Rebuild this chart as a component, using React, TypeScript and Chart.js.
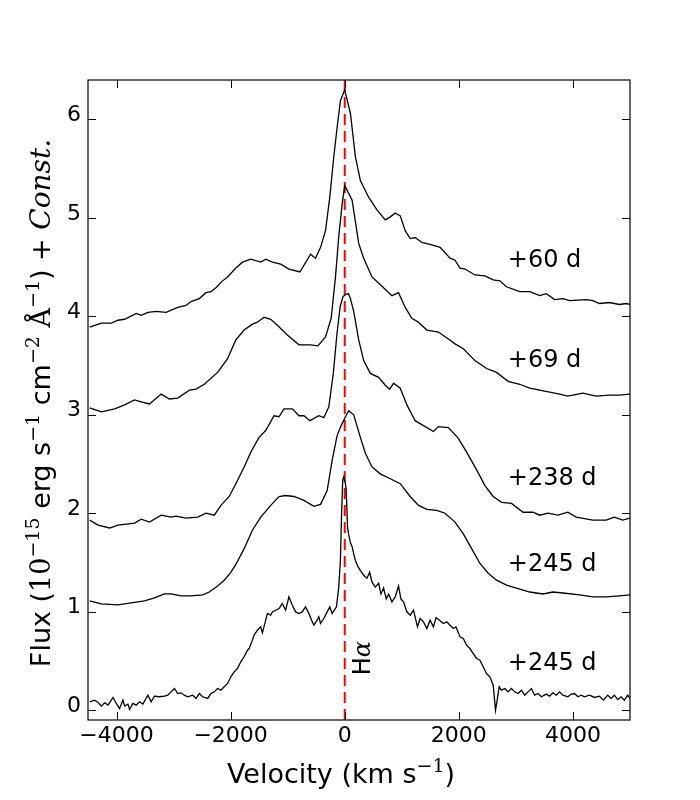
import { useEffect, useRef } from 'react';
import { Chart, registerables } from 'chart.js';

Chart.register(...registerables);

const xTicks = [-4000, -2000, 0, 2000, 4000];
const yTicks = [0, 1, 2, 3, 4, 5, 6];
const xMin = -4500;
const xMax = 5000;
const yMin = -0.1;
const yMax = 6.4;

const epoch60: [number, number][] = [
  [-4470, 3.89], [-4266, 3.93], [-4091, 3.93], [-3975, 3.96], [-3858, 3.97], [-3654, 4.03], [-3567, 4.01],
  [-3450, 4.04], [-3305, 4.05], [-3131, 4.04], [-2927, 4.09], [-2782, 4.11], [-2694, 4.15], [-2549, 4.18],
  [-2432, 4.24], [-2345, 4.25], [-2258, 4.29], [-2141, 4.36], [-2054, 4.40], [-1909, 4.49], [-1792, 4.55],
  [-1647, 4.58], [-1472, 4.55], [-1385, 4.58], [-1268, 4.55], [-1123, 4.53], [-978, 4.48], [-786, 4.45],
  [-599, 4.63], [-512, 4.59], [-424, 4.70], [-337, 4.87], [-262, 5.21], [-192, 5.62], [-133, 5.92],
  [-75, 6.19], [0, 6.30], [100, 6.06], [187, 5.62], [274, 5.38], [419, 5.21], [565, 5.08], [711, 4.98],
  [798, 5.01], [885, 5.05], [973, 5.02], [1060, 4.87], [1147, 4.79], [1234, 4.80], [1351, 4.75], [1496, 4.73],
  [1671, 4.70], [1846, 4.59], [1933, 4.57], [2020, 4.49], [2108, 4.48], [2282, 4.42], [2457, 4.41],
  [2602, 4.37], [2719, 4.36], [2835, 4.30], [3068, 4.25], [3243, 4.25], [3417, 4.21], [3534, 4.23],
  [3679, 4.17], [3824, 4.18], [3941, 4.16], [4233, 4.17], [4349, 4.16], [4465, 4.13], [4640, 4.14],
  [4814, 4.12], [4931, 4.13], [5000, 4.12],
];

const epoch69: [number, number][] = [
  [-4470, 3.07], [-4266, 3.03], [-4033, 3.06], [-3858, 3.10], [-3684, 3.15], [-3567, 3.13], [-3422, 3.11],
  [-3218, 3.21], [-3073, 3.16], [-2927, 3.17], [-2723, 3.25], [-2607, 3.26], [-2462, 3.31], [-2228, 3.43],
  [-2054, 3.57], [-1909, 3.76], [-1763, 3.86], [-1617, 3.92], [-1530, 3.94], [-1414, 3.99], [-1297, 3.97],
  [-1181, 3.91], [-1006, 3.81], [-802, 3.71], [-599, 3.71], [-471, 3.70], [-337, 3.79], [-238, 3.98],
  [-162, 4.40], [-105, 4.81], [-45, 5.14], [0, 5.33], [129, 5.18], [245, 4.74], [332, 4.59], [478, 4.40],
  [681, 4.29], [827, 4.21], [943, 4.24], [1060, 4.09], [1176, 3.98], [1293, 3.94], [1439, 3.86],
  [1642, 3.84], [1816, 3.77], [1933, 3.72], [2079, 3.67], [2282, 3.55], [2486, 3.47], [2661, 3.43],
  [2864, 3.34], [3068, 3.31], [3243, 3.27], [3417, 3.25], [3592, 3.23], [3766, 3.21], [3911, 3.19],
  [4173, 3.22], [4407, 3.19], [4640, 3.20], [4814, 3.20], [5000, 3.21],
];

const epoch238: [number, number][] = [
  [-4470, 1.93], [-4324, 1.88], [-4120, 1.85], [-3975, 1.88], [-3684, 1.90], [-3567, 1.94], [-3422, 1.91],
  [-3218, 1.98], [-3043, 1.96], [-2956, 1.97], [-2782, 1.95], [-2578, 1.96], [-2432, 2.00], [-2287, 1.98],
  [-2170, 2.08], [-2025, 2.17], [-1909, 2.30], [-1763, 2.47], [-1647, 2.62], [-1502, 2.77], [-1385, 2.84],
  [-1240, 2.99], [-1152, 2.98], [-1065, 3.06], [-919, 3.06], [-802, 2.99], [-715, 2.99], [-611, 2.94],
  [-454, 2.99], [-367, 2.97], [-279, 3.08], [-200, 3.42], [-140, 3.80], [-80, 4.10], [-30, 4.20],
  [12, 4.22], [65, 4.23], [100, 4.18], [157, 4.05], [245, 3.76], [332, 3.55], [449, 3.42], [594, 3.38],
  [711, 3.30], [786, 3.26], [856, 3.32], [973, 3.27], [1090, 3.10], [1234, 2.94], [1351, 2.90],
  [1554, 2.83], [1642, 2.88], [1816, 2.87], [1991, 2.76], [2137, 2.62], [2312, 2.44], [2457, 2.28],
  [2602, 2.17], [2748, 2.11], [2923, 2.10], [3126, 2.01], [3301, 2.01], [3417, 1.98], [3563, 2.00],
  [3737, 1.98], [3911, 2.01], [4057, 1.96], [4349, 1.93], [4582, 1.93], [4727, 1.96], [4872, 1.93],
  [5000, 1.95],
];

const epoch245a: [number, number][] = [
  [-4470, 1.11], [-4266, 1.08], [-3975, 1.07], [-3742, 1.09], [-3510, 1.11], [-3335, 1.14], [-3160, 1.18],
  [-3043, 1.18], [-2869, 1.16], [-2694, 1.16], [-2490, 1.17], [-2374, 1.20], [-2228, 1.26], [-2112, 1.32],
  [-1996, 1.40], [-1909, 1.48], [-1763, 1.64], [-1617, 1.83], [-1472, 1.96], [-1297, 2.08], [-1152, 2.17],
  [-1036, 2.18], [-890, 2.17], [-715, 2.13], [-541, 2.07], [-424, 2.09], [-308, 2.23], [-220, 2.54],
  [-133, 2.79], [-63, 2.89], [12, 2.98], [70, 3.04], [157, 3.00], [274, 2.77], [361, 2.61], [478, 2.47],
  [623, 2.40], [798, 2.35], [973, 2.30], [1147, 2.17], [1293, 2.08], [1439, 2.04], [1613, 2.03],
  [1758, 2.00], [1933, 1.91], [2079, 1.79], [2224, 1.64], [2370, 1.49], [2515, 1.39], [2661, 1.32],
  [2835, 1.27], [3068, 1.23], [3243, 1.20], [3475, 1.18], [3650, 1.20], [3824, 1.19], [4116, 1.17],
  [4349, 1.15], [4582, 1.15], [4814, 1.16], [5000, 1.17],
];

const epoch245b: [number, number][] = [
  [-4470, 0.085], [-4382, 0.102], [-4324, 0.078], [-4266, 0.041], [-4208, 0.075], [-4149, 0.051],
  [-4062, 0.129], [-4004, 0.068], [-3946, 0.017], [-3888, 0.102], [-3858, 0.041], [-3800, 0.061],
  [-3771, 0.007], [-3713, 0.068], [-3655, 0.051], [-3597, 0.085], [-3538, 0.061], [-3451, 0.152],
  [-3393, 0.085], [-3335, 0.142], [-3247, 0.136], [-3160, 0.142], [-3102, 0.152], [-3044, 0.186],
  [-2985, 0.220], [-2927, 0.169], [-2869, 0.176], [-2811, 0.152], [-2753, 0.136], [-2665, 0.152],
  [-2607, 0.119], [-2549, 0.169], [-2491, 0.136], [-2403, 0.119], [-2345, 0.169], [-2287, 0.186],
  [-2229, 0.220], [-2171, 0.203], [-2113, 0.237], [-2054, 0.271], [-1996, 0.339], [-1938, 0.389],
  [-1880, 0.423], [-1822, 0.491], [-1764, 0.542], [-1705, 0.609], [-1676, 0.626], [-1618, 0.711],
  [-1589, 0.762], [-1531, 0.812], [-1473, 0.846], [-1443, 0.785], [-1385, 0.914], [-1356, 0.982],
  [-1298, 0.965], [-1269, 0.998], [-1210, 1.015], [-1152, 1.032], [-1094, 1.083], [-1036, 1.015],
  [-978, 1.151], [-919, 1.066], [-861, 0.998], [-803, 0.982], [-745, 0.998], [-687, 1.049],
  [-628, 0.982], [-570, 0.897], [-541, 0.863], [-483, 0.914], [-454, 0.948], [-425, 0.880],
  [-367, 0.931], [-308, 0.998], [-262, 1.049], [-221, 0.982], [-145, 1.049], [-105, 1.252],
  [-76, 1.523], [-55, 2.00], [-35, 2.34], [-17, 2.37], [5, 2.32], [25, 2.25], [50, 1.85], [70, 1.78],
  [100, 1.70], [129, 1.66], [160, 1.58], [187, 1.52], [230, 1.46], [274, 1.42], [332, 1.37],
  [390, 1.34], [437, 1.40], [478, 1.30], [536, 1.25], [594, 1.29], [635, 1.18], [681, 1.24],
  [728, 1.13], [769, 1.18], [827, 1.10], [885, 1.15], [943, 1.26], [984, 1.13], [1030, 1.10],
  [1089, 0.999], [1147, 0.965], [1205, 1.015], [1275, 0.846], [1321, 0.931], [1380, 0.897],
  [1438, 0.829], [1496, 0.914], [1554, 0.846], [1601, 0.941], [1659, 0.914], [1729, 0.880],
  [1787, 0.897], [1845, 0.863], [1903, 0.829], [1950, 0.846], [2020, 0.745], [2078, 0.728],
  [2136, 0.660], [2194, 0.626], [2253, 0.575], [2311, 0.525], [2369, 0.508], [2427, 0.440],
  [2485, 0.372], [2544, 0.339], [2602, 0.254], [2643, 0.000], [2672, 0.102], [2707, 0.237],
  [2747, 0.203], [2806, 0.220], [2864, 0.186], [2922, 0.220], [2980, 0.186], [3038, 0.169],
  [3097, 0.203], [3155, 0.152], [3213, 0.186], [3271, 0.220], [3329, 0.152], [3388, 0.169],
  [3446, 0.136], [3533, 0.163], [3591, 0.142], [3649, 0.176], [3708, 0.152], [3766, 0.186],
  [3824, 0.152], [3911, 0.136], [3970, 0.163], [4028, 0.169], [4086, 0.136], [4144, 0.152],
  [4202, 0.136], [4290, 0.152], [4377, 0.129], [4464, 0.142], [4534, 0.102], [4610, 0.152],
  [4668, 0.119], [4726, 0.152], [4784, 0.108], [4843, 0.136], [4901, 0.102], [4959, 0.152],
  [5000, 0.119],
];

const series = [epoch60, epoch69, epoch238, epoch245a, epoch245b];
const epochLabels = ['+60 d', '+69 d', '+238 d', '+245 d', '+245 d'];
const labelVel = [2858, 2858, 2858, 2858, 2858];
const labelFlux = [4.5, 3.49, 2.29, 1.41, 0.41];
const lineLabel = 'H';
const lineLabelGreek = 'α';
const lineLabelPos = [450, 0.355];

const SANS = '"DejaVu Sans"';
const SERIF = '"DejaVu Serif"';

type Seg = { t: string; f: string; dy?: number };

function drawRich(ctx: CanvasRenderingContext2D, segs: Seg[], x: number, y: number, center: boolean) {
  let w = 0;
  for (const s of segs) {
    ctx.font = s.f;
    w += ctx.measureText(s.t).width;
  }
  let cx = center ? x - w / 2 : x;
  ctx.textBaseline = 'alphabetic';
  ctx.textAlign = 'left';
  for (const s of segs) {
    ctx.font = s.f;
    ctx.fillText(s.t, cx, y + (s.dy || 0));
    cx += ctx.measureText(s.t).width;
  }
}

const fmt = (v: number) => (v < 0 ? '\u2212' + Math.abs(v) : String(v));

const decorPlugin = {
  id: 'decor',
  afterDraw(chart: any) {
    const ctx: CanvasRenderingContext2D = chart.ctx;
    const { left, right, top, bottom } = chart.chartArea;
    const xs = chart.scales.x;
    const ys = chart.scales.y;
    ctx.save();
    ctx.strokeStyle = '#000';
    ctx.lineWidth = 1.2;
    ctx.strokeRect(left, top, right - left, bottom - top);
    const tl = 8;
    ctx.beginPath();
    for (const v of xTicks) {
      const px = Math.round(xs.getPixelForValue(v)) + 0.5;
      ctx.moveTo(px, bottom);
      ctx.lineTo(px, bottom - tl);
      ctx.moveTo(px, top);
      ctx.lineTo(px, top + tl);
    }
    for (const v of yTicks) {
      const py = Math.round(ys.getPixelForValue(v)) + 0.5;
      ctx.moveTo(left, py);
      ctx.lineTo(left + tl, py);
      ctx.moveTo(right, py);
      ctx.lineTo(right - tl, py);
    }
    ctx.lineWidth = 1;
    ctx.stroke();

    ctx.fillStyle = '#000';
    // epoch labels
    ctx.font = `24px ${SANS}`;
    ctx.textAlign = 'left';
    ctx.textBaseline = 'alphabetic';
    epochLabels.forEach((t, i) => {
      ctx.fillText(t, xs.getPixelForValue(labelVel[i]), ys.getPixelForValue(labelFlux[i]));
    });

    // H alpha label
    ctx.save();
    ctx.translate(xs.getPixelForValue(lineLabelPos[0]), ys.getPixelForValue(lineLabelPos[1]));
    ctx.rotate(-Math.PI / 2);
    drawRich(ctx, [
      { t: lineLabel, f: `24px ${SANS}` },
      { t: lineLabelGreek, f: `italic 24px ${SERIF}` },
    ], 0, 0, false);
    ctx.restore();

    // x title
    drawRich(ctx, [
      { t: 'Velocity (km s', f: `27px ${SANS}` },
      { t: '\u22121', f: `19px ${SERIF}`, dy: -11 },
      { t: ')', f: `27px ${SANS}` },
    ], (left + right) / 2 - 18, 783, true);

    // y title
    ctx.save();
    ctx.translate(50, 403);
    ctx.rotate(-Math.PI / 2);
    drawRich(ctx, [
      { t: 'Flux (', f: `27px ${SANS}` },
      { t: '10', f: `27px ${SERIF}` },
      { t: '\u221215', f: `19px ${SERIF}`, dy: -11 },
      { t: ' erg s', f: `27px ${SANS}` },
      { t: '\u22121', f: `19px ${SERIF}`, dy: -11 },
      { t: ' cm', f: `27px ${SANS}` },
      { t: '\u22122', f: `19px ${SERIF}`, dy: -11 },
      { t: ' ', f: `27px ${SANS}` },
      { t: 'Å', f: `27px ${SERIF}` },
      { t: '\u22121', f: `19px ${SERIF}`, dy: -11 },
      { t: ') + ', f: `27px ${SANS}` },
      { t: 'Const.', f: `italic 28px ${SERIF}` },
    ], 0, 0, true);
    ctx.restore();
    ctx.restore();
  },
};

export default function App() {
  const ref = useRef<HTMLCanvasElement>(null);
  useEffect(() => {
    document.body.style.margin = '0';
    const canvas = ref.current;
    if (!canvas) return;
    const datasets: any[] = series.map((s) => ({
      data: s.map(([x, y]) => ({ x, y })),
      borderColor: '#000',
      borderWidth: 1.3,
      pointRadius: 0,
      fill: false,
      tension: 0,
    }));
    datasets.push({
      data: [{ x: 0, y: yMin }, { x: 0, y: yMax }],
      borderColor: '#ff0000',
      borderWidth: 2,
      borderDash: [11, 6],
      pointRadius: 0,
      fill: false,
    });
    const chart = new Chart(canvas, {
      type: 'line',
      data: { datasets },
      plugins: [decorPlugin],
      options: {
        animation: false,
        responsive: false,
        layout: { padding: { top: 80, right: 70, left: 0, bottom: 0 } },
        plugins: { legend: { display: false }, tooltip: { enabled: false } },
        scales: {
          x: {
            type: 'linear',
            min: xMin,
            max: xMax,
            afterBuildTicks: (s: any) => {
              s.ticks = xTicks.map((v) => ({ value: v }));
            },
            afterFit: (s: any) => {
              s.height = 80;
            },
            grid: { display: false, drawTicks: false },
            border: { display: false },
            ticks: {
              font: { family: 'DejaVu Sans', size: 22 },
              color: '#000',
              padding: 3,
              maxRotation: 0,
              autoSkip: false,
              callback: (v: any) => fmt(Number(v)),
            },
          },
          y: {
            type: 'linear',
            min: yMin,
            max: yMax,
            afterBuildTicks: (s: any) => {
              s.ticks = yTicks.map((v) => ({ value: v }));
            },
            afterFit: (s: any) => {
              s.width = 88;
            },
            grid: { display: false, drawTicks: false },
            border: { display: false },
            ticks: {
              font: { family: 'DejaVu Sans', size: 22 },
              color: '#000',
              padding: 7,
              labelOffset: -4,
              autoSkip: false,
              callback: (v: any) => fmt(Number(v)),
            },
          },
        },
      } as any,
    });
    return () => chart.destroy();
  }, []);
  return (
    <div style={{ width: 700, height: 800 }}>
      <canvas ref={ref} width={700} height={800} style={{ display: 'block', width: 700, height: 800 }} />
    </div>
  );
}
